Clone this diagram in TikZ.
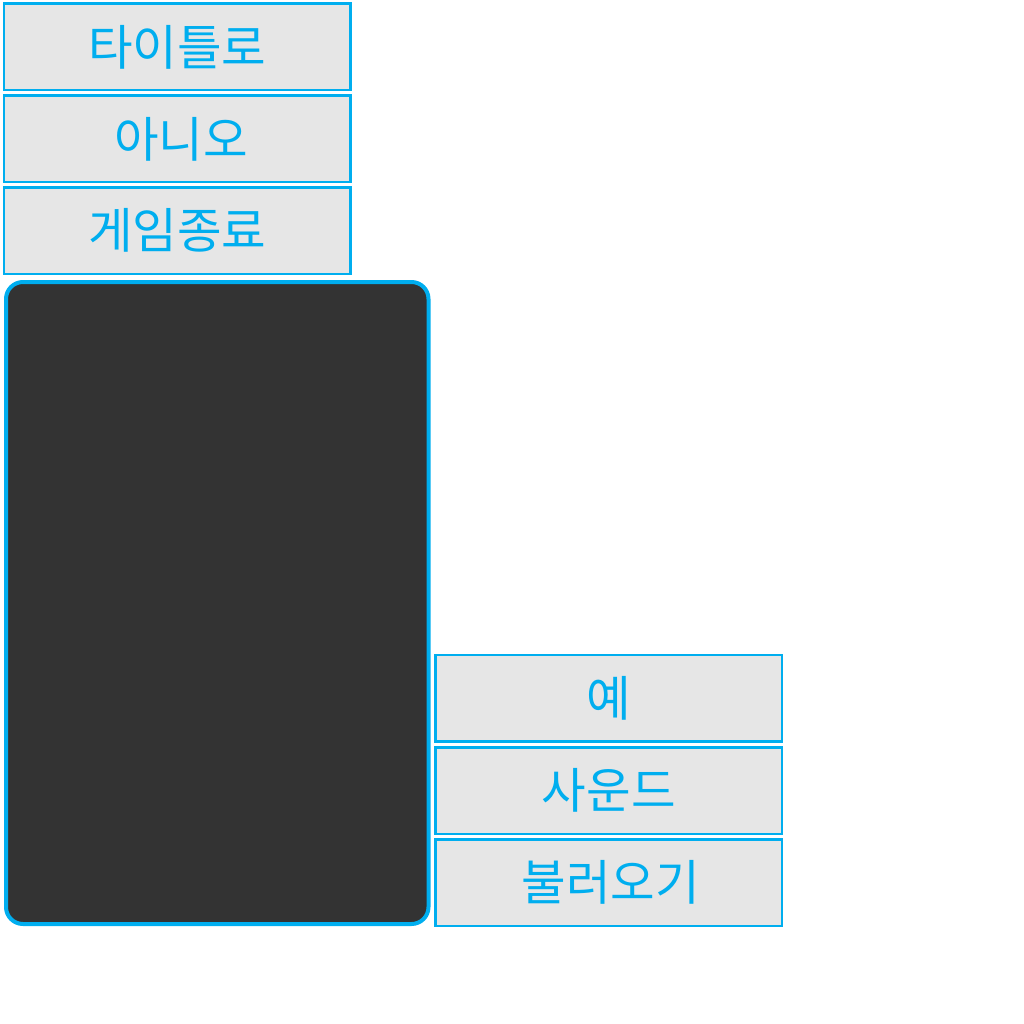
\documentclass[tikz,border=0pt]{standalone}
\usepackage{fontspec}
\newfontfamily\kr{Noto Sans CJK KR}
\definecolor{cyanline}{HTML}{00AEEF}
\definecolor{boxfill}{HTML}{E6E6E6}
\definecolor{darkfill}{HTML}{333333}
\begin{document}
\begin{tikzpicture}[x=1pt,y=-1pt,
  menubox/.style={draw=cyanline,fill=boxfill,line width=2.5pt,minimum width=346.5pt,minimum height=86.5pt,inner sep=0pt,font=\kr\fontsize{48.5}{54}\selectfont,text=cyanline},
  screen/.style={draw=cyanline,fill=darkfill,line width=4pt,rounded corners=17pt}]
\useasboundingbox (0,0) rectangle (1024,1024);
\node[menubox] (title) at (177.25,47) {타이틀로};
\node[menubox] (no) at (177.25,139) {\hspace*{8pt}아니오};
\node[menubox] (quit) at (177.25,230.75) {게임종료};
\draw[screen] (6,282) rectangle (428.5,924);
\node[menubox] (yes) at (608.75,698.25) {예};
\node[menubox] (sound) at (608.75,790.75) {사운드};
\node[menubox] (load) at (608.75,882.5) {\hspace*{4pt}불러오기};
\end{tikzpicture}
\end{document}
